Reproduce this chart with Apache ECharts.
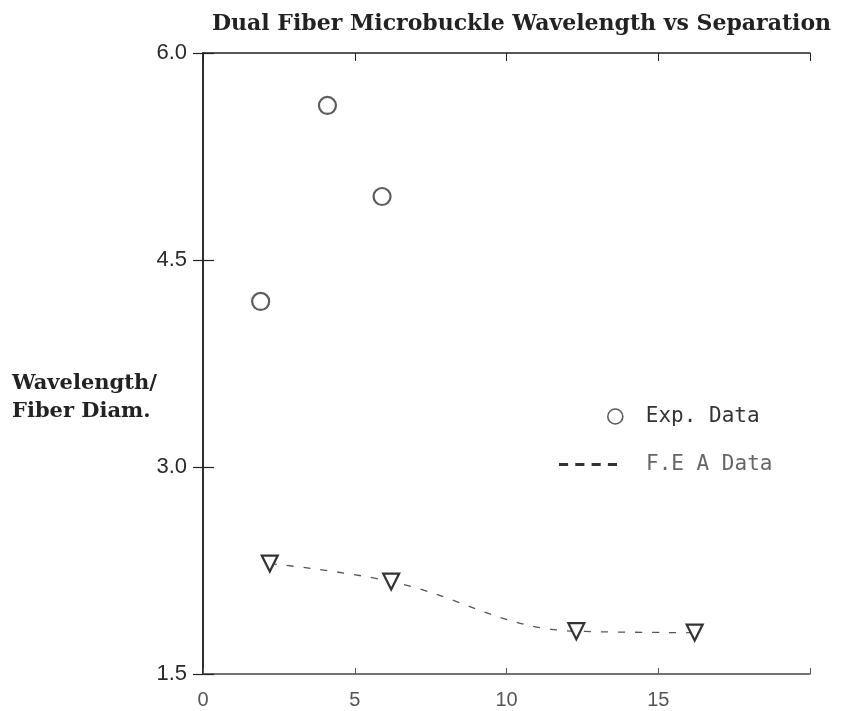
<!DOCTYPE html>
<html>
<head>
<meta charset="utf-8">
<script src="https://cdn.jsdelivr.net/npm/echarts@6/dist/echarts.min.js"></script>
<style>
  html, body { margin: 0; padding: 0; background: #fff; }
  #chart { width: 848px; height: 711px; }
</style>
</head>
<body>
<div id="chart"></div>
<script>
// Experimental measurements: separation vs wavelength / fiber diameter
const expSeparation = [1.9, 4.1, 5.9];
const expWavelength = [4.2, 5.62, 4.96];

// Finite element results
const feaSeparation = [2.2, 6.2, 12.3, 16.2];
const feaWavelength = [2.3, 2.17, 1.81, 1.8];

const xTicks = [0, 5, 10, 15, 20];
const yTicks = [1.5, 3.0, 4.5, 6.0];

const titleText = 'Dual Fiber Microbuckle Wavelength vs Separation';
const yTitleLines = ['Wavelength/', 'Fiber Diam.'];
const expName = 'Exp. Data';
const feaName = 'F.E A Data';

const ink = '#222';
const slab = '"DejaVu Serif", "Liberation Serif", serif';
const sans = '"Liberation Sans", "DejaVu Sans", sans-serif';
const mono = '"DejaVu Sans Mono", "Liberation Mono", monospace';

const chart = echarts.init(document.getElementById('chart'));

const zip = (xs, ys) => xs.map((x, i) => [x, ys[i]]);

const xMin = xTicks[0], xMax = xTicks[xTicks.length - 1];
const yMin = yTicks[0], yMax = yTicks[yTicks.length - 1];

chart.setOption({
  backgroundColor: '#fff',
  animation: false,
  title: {
    text: titleText,
    left: 207,
    top: 8,
    textStyle: { fontFamily: slab, fontWeight: 'bold', fontSize: 22, color: ink }
  },
  grid: { left: 203, top: 53, right: 38, bottom: 37, show: false },
  xAxis: [
    {
      type: 'value', min: xMin, max: xMax, interval: 5, position: 'bottom',
      axisLine: { show: true, lineStyle: { color: '#444', width: 1.5 } },
      axisTick: { show: true, inside: true, length: 6, lineStyle: { color: '#555' } },
      splitLine: { show: false },
      axisLabel: {
        color: '#555', fontFamily: sans, fontSize: 20, margin: 16,
        formatter: v => (v === xMax ? '' : String(v))
      }
    },
    {
      type: 'value', min: xMin, max: xMax, interval: 5, position: 'top',
      axisLine: { show: true, lineStyle: { color: ink, width: 1.5 } },
      axisTick: { show: true, inside: true, length: 8, lineStyle: { color: ink } },
      splitLine: { show: false },
      axisLabel: { show: false }
    }
  ],
  yAxis: [
    {
      type: 'value', min: yMin, max: yMax, interval: 1.5, position: 'left',
      axisLine: { show: true, lineStyle: { color: ink, width: 1.5 } },
      axisTick: { show: true, inside: true, length: 11, lineStyle: { color: ink, width: 1.2 } },
      splitLine: { show: false },
      axisLabel: {
        color: '#2a2a2a', fontFamily: sans, fontSize: 22, margin: 16,
        formatter: v => v.toFixed(1)
      }
    },
    {
      type: 'value', min: yMin, max: yMax, interval: 1.5, position: 'right',
      axisLine: { show: true, lineStyle: { color: ink, width: 1.5 } },
      axisTick: { show: true, inside: true, length: 10, lineStyle: { color: ink, width: 1.2 } },
      splitLine: { show: false },
      axisLabel: { show: false }
    }
  ],
  legend: [
    {
      left: 602, top: 401,
      itemWidth: 15, itemHeight: 15, itemGap: 24,
      textStyle: { fontFamily: mono, fontSize: 21, color: '#333', padding: [0, 0, 0, 18] },
      data: [{
        name: expName, icon: 'circle',
        itemStyle: { color: '#fff', borderColor: '#333', borderWidth: 1.6 }
      }]
    },
    {
      left: 554, top: 449,
      itemWidth: 56, itemHeight: 2, itemGap: 30,
      textStyle: { fontFamily: mono, fontSize: 21, color: '#666', padding: [0, 0, 0, 25] },
      data: [{
        name: feaName,
        icon: 'path://M0,0h7v1h-7z M16,0h7v1h-7z M32,0h7v1h-7z M48,0h7v1h-7z',
        itemStyle: { color: '#555' }
      }]
    }
  ],
  graphic: [
    {
      type: 'text', left: 12, top: 370,
      style: {
        text: yTitleLines.join('\n'),
        font: 'bold 21px ' + slab,
        lineHeight: 28,
        fill: ink
      }
    }
  ],
  series: [
    {
      name: expName, type: 'scatter',
      data: zip(expSeparation, expWavelength),
      symbol: 'circle', symbolSize: 17,
      itemStyle: { color: '#fff', borderColor: '#333', borderWidth: 2.2 }
    },
    {
      name: feaName, type: 'line',
      data: zip(feaSeparation, feaWavelength),
      smooth: 0.4,
      symbol: 'triangle', symbolSize: 16, symbolRotate: 180,
      showAllSymbol: true,
      lineStyle: { color: '#555', width: 1.3, type: [7, 10] },
      itemStyle: { color: '#fff', borderColor: '#333', borderWidth: 2.2 }
    }
  ]
});
</script>
</body>
</html>
